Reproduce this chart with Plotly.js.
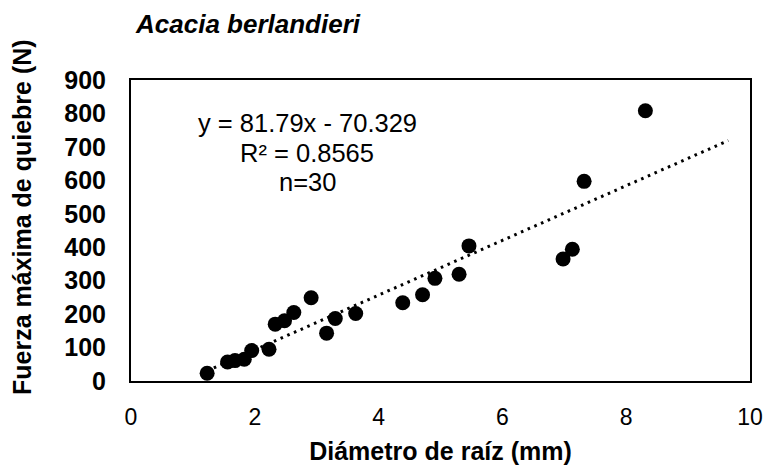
<!DOCTYPE html>
<html>
<head>
<meta charset="utf-8">
<script src="https://cdn.plot.ly/plotly-3.0.1.min.js"></script>
<style>html,body{margin:0;padding:0;background:#fff}#chart{width:770px;height:470px}</style>
</head>
<body>
<div id="chart"></div>
<script>
const diametro = [1.23, 1.56, 1.68, 1.83, 1.95, 2.23, 2.33, 2.48, 2.63, 2.91, 3.16, 3.30, 3.63, 4.39, 4.71, 4.91, 5.30, 5.46, 6.98, 7.13, 7.32, 8.31];
const fuerza   = [23, 57, 61, 65, 91, 95, 170, 180, 205, 249, 143, 187, 202, 234, 258, 307, 319, 404, 365, 394, 597, 808];
const slope = 81.79, intercept = -70.329;
const trendX = [1.23, 9.65];
const trendY = trendX.map(x => slope * x + intercept);
const xTicks = [0, 2, 4, 6, 8, 10];
const yTicks = [0, 100, 200, 300, 400, 500, 600, 700, 800, 900];
const eqLines = ['y = 81.79x - 70.329', 'R² = 0.8565', 'n=30'];

const font = 'Liberation Sans, Arial, sans-serif';
const px = v => (v - 131) / (750 - 131);
const py = v => (381 - v) / (381 - 80);
const traces = [
  {x: trendX, y: trendY, mode: 'lines', type: 'scatter',
   line: {color: '#000', width: 3, dash: '2.6px,4.7px'}, hoverinfo: 'skip'},
  {x: diametro, y: fuerza, mode: 'markers', type: 'scatter',
   marker: {color: '#000', size: 15, line: {width: 0}}}
];
const layout = {
  width: 770, height: 470,
  margin: {l: 131, r: 20, t: 80, b: 89},
  paper_bgcolor: '#fff', plot_bgcolor: '#fff',
  showlegend: false,
  font: {family: font, color: '#000'},
  title: {text: '<b><i>Acacia berlandieri</i></b>', x: 136/770, xanchor: 'left', xref: 'container',
          y: 1 - 24/470, yanchor: 'middle', yref: 'container', font: {size: 26, family: font, color: '#000'}},
  xaxis: {range: [0, 10], tickvals: xTicks, ticktext: xTicks.map(String), showgrid: false, zeroline: false,
          showline: true, linecolor: '#000', linewidth: 2, mirror: true, ticks: '',
          ticklabelstandoff: 14, tickfont: {size: 23, family: font, color: '#000'},
          title: {text: '<b>Diámetro de raíz (mm)</b>', font: {size: 25, family: font, color: '#000'}, standoff: 14}},
  yaxis: {range: [0, 900], tickvals: yTicks, ticktext: yTicks.map(v => '<b>' + v + '</b>'), showgrid: false, zeroline: false,
          showline: true, linecolor: '#000', linewidth: 2, mirror: true, ticks: '',
          ticklabelstandoff: 18, tickfont: {size: 25, family: font, color: '#000'}},
  annotations: [
    {text: eqLines[0], x: px(307.5), y: py(123)},
    {text: eqLines[1], x: px(307), y: py(153)},
    {text: eqLines[2], x: px(307.5), y: py(182)}
  ].map(a => Object.assign(a, {xref: 'paper', yref: 'paper',
      showarrow: false, xanchor: 'center', yanchor: 'middle', font: {size: 25.5, family: font, color: '#000'}}))
  .concat([{text: '<b>Fuerza máxima de quiebre (N)</b>', textangle: -90, x: px(22), y: py(217), xref: 'paper', yref: 'paper',
      showarrow: false, xanchor: 'center', yanchor: 'middle', font: {size: 25, family: font, color: '#000'}}])
};
Plotly.newPlot('chart', traces, layout, {displayModeBar: false, staticPlot: true});
</script>
</body>
</html>
